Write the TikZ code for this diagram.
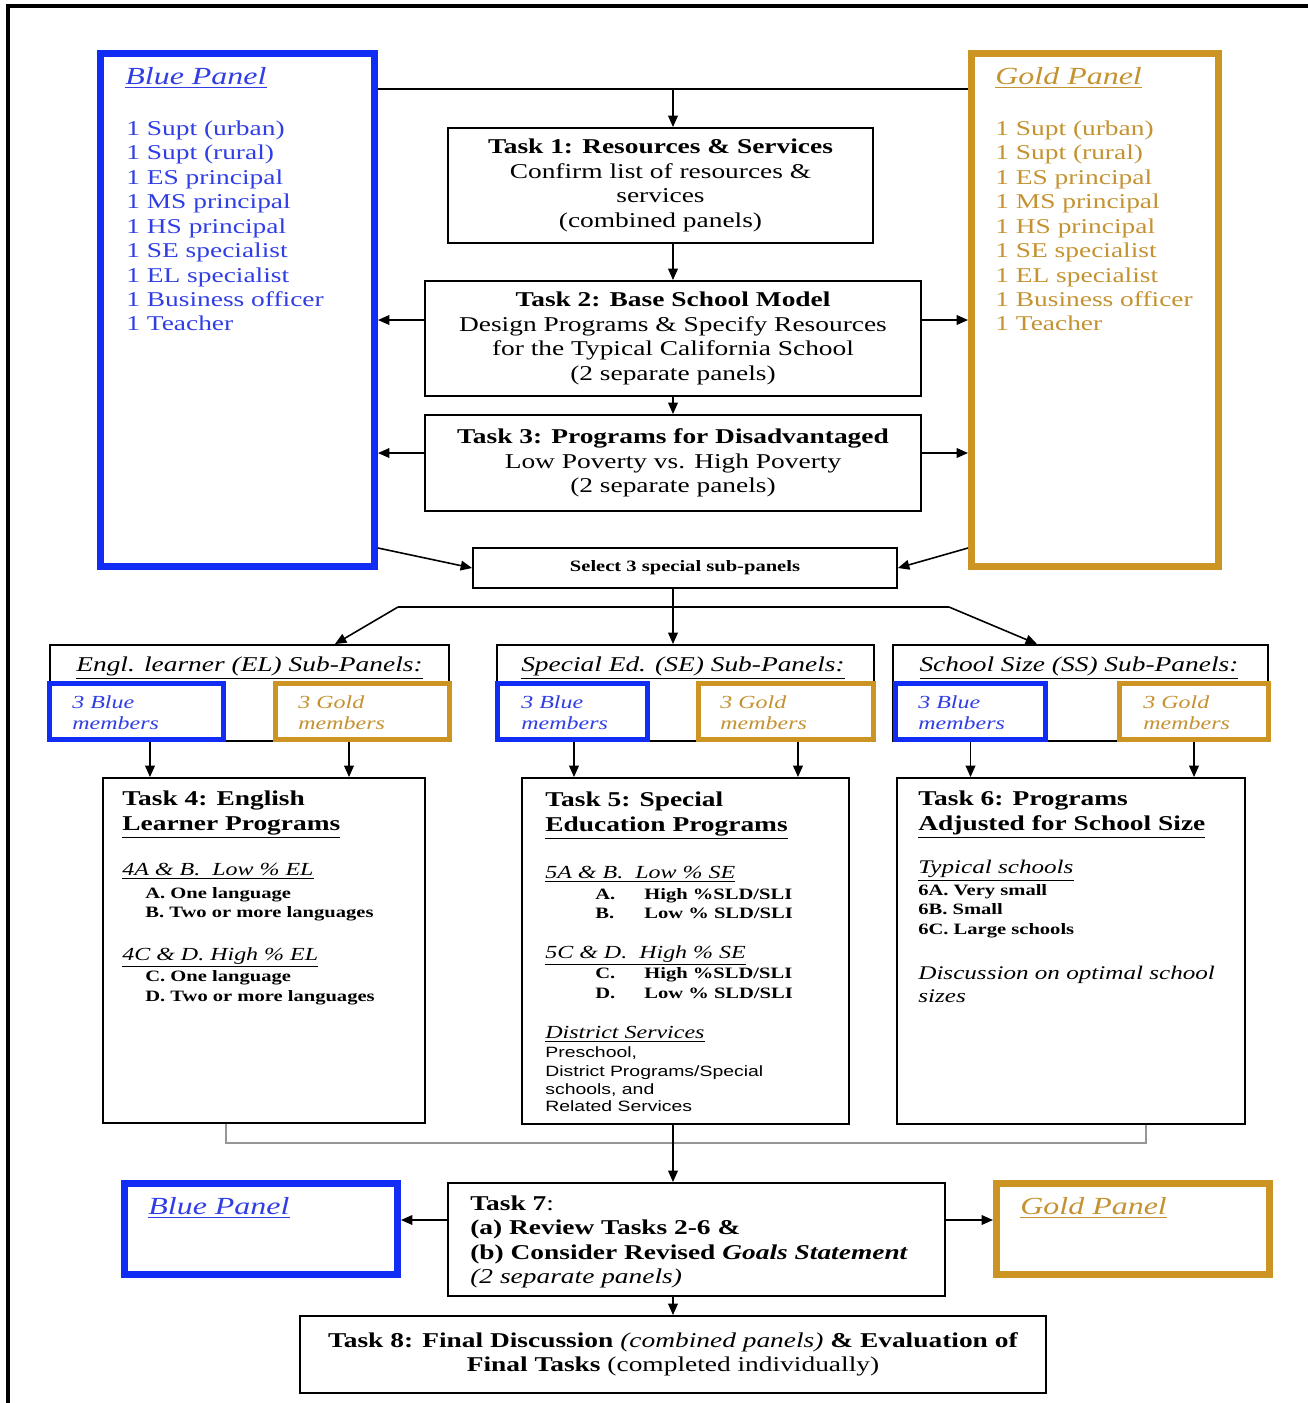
\documentclass[tikz,border=0pt]{standalone}
\usepackage{fontspec}
\setmainfont{Liberation Serif}[FakeStretch=1.3]
\setsansfont{Liberation Sans}[FakeStretch=1.3]
\usetikzlibrary{arrows.meta,positioning}

\definecolor{panelblue}{RGB}{16,44,245}
\definecolor{panelgold}{RGB}{204,148,34}
\definecolor{inkblue}{RGB}{48,62,228}
\definecolor{inkgold}{RGB}{196,146,48}
\definecolor{linkgray}{RGB}{150,150,150}

\newcommand{\taskfont}{\fontsize{12}{13.9}\selectfont}
\newcommand{\itemfont}{\fontsize{9}{10.5}\selectfont\bfseries}
\newcommand{\subfont}{\fontsize{10.5}{12}\selectfont\itshape}
\newcommand{\svcfont}{\sffamily\fontsize{8.5}{10}\selectfont}

\tikzset{
  task/.style={draw, line width=1.1pt, inner sep=0pt, align=center, font=\taskfont},
  bpanel/.style={draw=panelblue, line width=4pt, inner sep=0pt},
  gpanel/.style={draw=panelgold, line width=4pt, inner sep=0pt},
  subhead/.style={draw, line width=1.1pt, inner sep=0pt, minimum height=1.92cm},
  bmember/.style={draw=panelblue, fill=white, line width=3pt, inner sep=0pt, minimum height=1.12cm},
  gmember/.style={draw=panelgold, fill=white, line width=3pt, inner sep=0pt, minimum height=1.12cm},
  tline/.style={inner sep=0pt, anchor=west, align=left, text height=0.7em, text depth=0.2em},
  arr/.style={-{Triangle[length=6.5pt,width=5.5pt]}, line width=0.9pt},
}

\begin{document}
\begin{tikzpicture}[x=0.02cm, y=-0.02cm]
  \useasboundingbox (0,0) rectangle (1308,1403);
  \draw[line width=2.3pt] (8,1403) -- (8,6) -- (1308,6);

  % the two panels
  \node[bpanel, minimum width=5.48cm, minimum height=10.26cm] (blue) at (237.5,310) {};
  \node[gpanel, minimum width=4.94cm, minimum height=10.26cm] (gold) at (1095,310) {};
  \node[tline, font=\fontsize{14}{16}\selectfont\itshape, text=inkblue] (bluehead) at (125,80) {\underline{Blue Panel}};
  \node[tline, font=\fontsize{14}{16}\selectfont\itshape, text=inkgold] (goldhead) at (995,80) {\underline{Gold Panel}};
  \node[inner sep=0pt, anchor=west, align=left, font=\taskfont, text=inkblue] (bluelist) at (126,226)
    {1 Supt (urban)\\1 Supt (rural)\\1 ES principal\\1 MS principal\\1 HS principal\\
     1 SE specialist\\1 EL specialist\\1 Business officer\\1 Teacher};
  \node[inner sep=0pt, anchor=west, align=left, font=\taskfont, text=inkgold] (goldlist) at (995,226)
    {1 Supt (urban)\\1 Supt (rural)\\1 ES principal\\1 MS principal\\1 HS principal\\
     1 SE specialist\\1 EL specialist\\1 Business officer\\1 Teacher};

  % tasks 1-3
  \node[task, minimum width=8.5cm, minimum height=2.3cm] (t1) at (660.5,185.5)
    {\textbf{Task 1: Resources \& Services}\\Confirm list of resources \&\\services\\(combined panels)};
  \node[task, minimum width=9.92cm, minimum height=2.3cm] (t2) at (673,338.5)
    {\textbf{Task 2: Base School Model}\\Design Programs \& Specify Resources\\for the Typical California School\\(2 separate panels)};
  \node[task, minimum width=9.92cm, minimum height=1.92cm] (t3) at (673,463)
    {\textbf{Task 3: Programs for Disadvantaged}\\Low Poverty vs. High Poverty\\(2 separate panels)};
  \node[task, minimum width=8.48cm, minimum height=0.8cm, font=\itemfont] (sel) at (685,568)
    {Select 3 special sub-panels};

  \coordinate (row1) at (673,89);
  \coordinate (row2) at (0,320);
  \coordinate (row3) at (0,453);
  \coordinate (row4) at (0,548);
  \draw[line width=0.9pt] (row1 -| blue.east) -- (row1 -| gold.west);
  \draw[arr] (row1) -- (row1 |- t1.north);
  \draw[arr] (t1.south -| t2.north) -- (t2.north);
  \draw[arr] (t2.south) -- (t3.north);
  \draw[arr] (t2.west |- row2) -- (blue.east |- row2);
  \draw[arr] (t2.east |- row2) -- (gold.west |- row2);
  \draw[arr] (t3.west |- row3) -- (blue.east |- row3);
  \draw[arr] (t3.east |- row3) -- (gold.west |- row3);
  \draw[arr] (blue.east |- row4) -- (sel.west);
  \draw[arr] (gold.west |- row4) -- (sel.east);

  % sub-panels
  \node[subhead, minimum width=7.98cm] (elh) at (249.5,693) {};
  \node[subhead, minimum width=7.54cm] (seh) at (685.5,693) {};
  \node[subhead, minimum width=7.5cm] (ssh) at (1080.5,693) {};
  \node[tline, anchor=center, font=\fontsize{12}{13.9}\selectfont\itshape] (elt) at (249.5,667) {\underline{Engl. learner (EL) Sub-Panels:}};
  \node[tline, anchor=center, font=\fontsize{12}{13.9}\selectfont\itshape] (set) at (683,667) {\underline{Special Ed. (SE) Sub-Panels:}};
  \node[tline, anchor=center, font=\fontsize{12}{13.9}\selectfont\itshape] (sst) at (1079,667) {\underline{School Size (SS) Sub-Panels:}};

  \node[bmember, minimum width=3.48cm] (elb) at (136.5,711.5) {};
  \node[gmember, minimum width=3.48cm] (elg) at (362.5,711.5) {};
  \node[bmember, minimum width=3.0cm] (seb) at (572.5,711.5) {};
  \node[gmember, minimum width=3.5cm] (seg) at (786,711.5) {};
  \node[bmember, minimum width=3.0cm] (ssb) at (970.5,711.5) {};
  \node[gmember, minimum width=2.98cm] (ssg) at (1194,711.5) {};
  \foreach \m/\xx in {elbt/72, sebt/521, ssbt/918}
    \node[inner sep=0pt, anchor=west, align=left, font=\subfont, text=inkblue] (\m) at (\xx,713) {3 Blue\\members};
  \foreach \m/\xx in {elgt/298, segt/720, ssgt/1143}
    \node[inner sep=0pt, anchor=west, align=left, font=\subfont, text=inkgold] (\m) at (\xx,713) {3 Gold\\members};

  \coordinate (splitl) at (398,607);
  \coordinate (splitr) at (949,607);
  \draw[line width=0.9pt] (splitl) -- (splitr);
  \draw[arr] (sel.south -| t2.north) -- (seh.north -| t2.north);
  \draw[arr] (splitl) -- ([xshift=1.71cm]elh.north);
  \draw[arr] (splitr) -- ([xshift=-0.87cm]ssh.north);

  % tasks 4-6
  \node[task, minimum width=6.44cm, minimum height=6.9cm] (t4) at (264,950.5) {};
  \node[task, minimum width=6.54cm, minimum height=6.92cm] (t5) at (685.5,951) {};
  \node[task, minimum width=6.96cm, minimum height=6.92cm] (t6) at (1071,951) {};

  \draw[arr] ([xshift=0.27cm]elb.south) -- ([xshift=0.27cm]elb.south |- t4.north);
  \draw[arr] ([xshift=-0.27cm]elg.south) -- ([xshift=-0.27cm]elg.south |- t4.north);
  \draw[arr] ([xshift=0.03cm]seb.south) -- ([xshift=0.03cm]seb.south |- t5.north);
  \draw[arr] ([xshift=0.24cm]seg.south) -- ([xshift=0.24cm]seg.south |- t5.north);
  \draw[arr] (ssb.south) -- (ssb.south |- t6.north);
  \draw[arr] (ssg.south) -- (ssg.south |- t6.north);

  \node[tline, font=\taskfont\bfseries] (t4a) at (122,801) {Task 4: English};
  \node[tline, font=\taskfont\bfseries] (t4b) at (122,826) {\underline{Learner Programs}};
  \node[tline, font=\subfont] (t4c) at (122,871) {\underline{4A \& B.\ \ Low \% EL}};
  \node[tline, font=\subfont] (t4f) at (122,956) {\underline{4C \& D. High \% EL}};
  \foreach \n/\yy/\txt in {d/894/A. One language, e/913/B. Two or more languages,
                           g/977/C. One language, h/997/D. Two or more languages}
    \node[tline, font=\itemfont] (t4\n) at (145,\yy) {\txt};

  \node[tline, font=\taskfont\bfseries] (t5a) at (545,802) {Task 5: Special};
  \node[tline, font=\taskfont\bfseries] (t5b) at (545,827) {\underline{Education Programs}};
  \node[tline, font=\subfont] (t5c) at (545,874) {\underline{5A \& B.\ \ Low \% SE}};
  \node[tline, font=\subfont] (t5f) at (545,954) {\underline{5C \& D.\ \ High \% SE}};
  \foreach \n/\yy/\txt in {d/895/{\makebox[0.98cm][l]{A.}High \%SLD/SLI}, e/914/{\makebox[0.98cm][l]{B.}Low \% SLD/SLI},
                           g/974/{\makebox[0.98cm][l]{C.}High \%SLD/SLI}, h/994/{\makebox[0.98cm][l]{D.}Low \% SLD/SLI}}
    \node[tline, font=\itemfont] (t5\n) at (595,\yy) {\txt};
  \node[tline, font=\subfont] (t5i) at (545,1034) {\underline{District Services}};
  \node[inner sep=0pt, anchor=north west, align=left, font=\svcfont] (t5j) at (545,1046)
    {Preschool,\\[1pt]District Programs/Special\\schools, and\\Related Services};

  \node[tline, font=\taskfont\bfseries] (t6a) at (918,801) {Task 6: Programs};
  \node[tline, font=\taskfont\bfseries] (t6b) at (918,826) {\underline{Adjusted for School Size}};
  \node[tline, font=\fontsize{11}{12.5}\selectfont\itshape] (t6c) at (918,869) {\underline{Typical schools}};
  \node[inner sep=0pt, anchor=west, align=left, font=\fontsize{9}{11.1}\selectfont\bfseries] (t6d) at (918,911)
    {6A. Very small\\6B. Small\\6C. Large schools};
  \node[inner sep=0pt, anchor=west, align=left, font=\fontsize{11}{13}\selectfont\itshape] (t6e) at (918,984)
    {Discussion on optimal school\\sizes};

  % task 7 and 8
  \node[task, minimum width=9.94cm, minimum height=2.26cm] (t7) at (696.5,1239.5) {};
  \node[inner sep=0pt, anchor=west, align=left, font=\taskfont] (t7txt) at (470,1242)
    {\textbf{Task 7}:\\\textbf{(a) Review Tasks 2-6 \&}\\\textbf{(b) Consider Revised \textit{Goals Statement}}\\\textit{(2 separate panels)}};
  \node[task, minimum width=14.92cm, minimum height=1.54cm] (t8) at (673,1354.5)
    {\textbf{Task 8: Final Discussion} \textit{(combined panels)} \textbf{\& Evaluation of}\\\textbf{Final Tasks} (completed individually)};

  \node[bpanel, minimum width=5.46cm, minimum height=1.82cm] (blue2) at (261,1229) {};
  \node[gpanel, minimum width=5.46cm, minimum height=1.82cm] (gold2) at (1133,1229) {};
  \node[tline, font=\fontsize{14}{16}\selectfont\itshape, text=inkblue] (blue2head) at (148,1210) {\underline{Blue Panel}};
  \node[tline, font=\fontsize{14}{16}\selectfont\itshape, text=inkgold] (gold2head) at (1020,1210) {\underline{Gold Panel}};

  \coordinate (row7) at (0,1220);
  \draw[linkgray, line width=1.6pt] ([xshift=-0.76cm]t4.south) -- ++(0,19) -| ([xshift=1.5cm]t6.south);
  \draw[arr] (t5.south -| t8.north) -- (t7.north -| t8.north);
  \draw[arr] (t7.west |- row7) -- (blue2.east |- row7);
  \draw[arr] (t7.east |- row7) -- (gold2.west |- row7);
  \draw[arr] (t7.south -| t8.north) -- (t8.north);
\end{tikzpicture}
\end{document}
